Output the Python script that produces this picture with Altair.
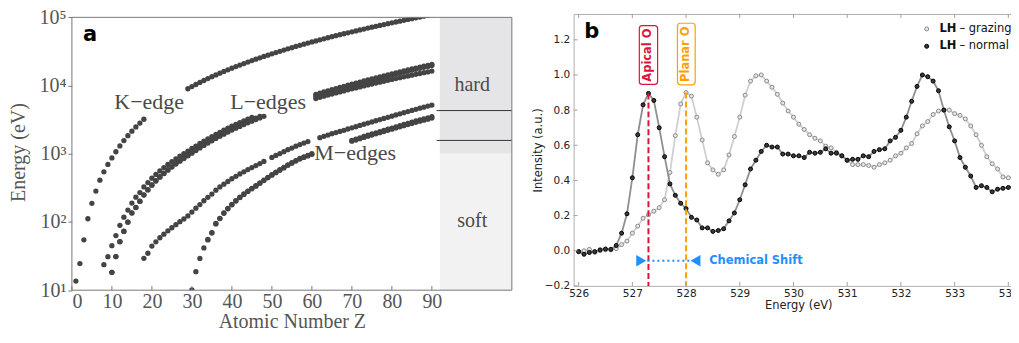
import altair as alt
import pandas as pd

# ================= panel a : absorption-edge energies (eV) vs Z =================
K_Z = list(range(1, 19)) + list(range(29, 91))
K_EV = [13.6, 24.6, 54.7, 111.5, 188, 284.2, 409.9, 543.1, 696.7, 870.2, 1070.8, 1303,
        1559.6, 1839, 2145.5, 2472, 2822.4, 3205.9,
        8979, 9659, 10367, 11103, 11867, 12658, 13474, 14326, 15200, 16105, 17038, 17998,
        18986, 20000, 21044, 22117, 23220, 24350, 25514, 26711, 27940, 29200, 30491, 31814,
        33169, 34561, 35985, 37441, 38925, 40443, 41991, 43569, 45184, 46834, 48519, 50239,
        51996, 53789, 55618, 57486, 59390, 61332, 63314, 65351, 67416, 69525, 71676, 73871,
        76111, 78395, 80725, 83102, 85530, 88005, 90526, 93105, 95730, 98404, 101137, 103922,
        106755, 109651]

L1_Z = list(range(8, 46)) + list(range(61, 91))
L1_EV = [23.7, 31, 45, 63.3, 89.4, 117.8, 149.7, 189, 230.9, 270, 326.3, 378.6, 438.4, 498,
         560.9, 626.7, 696, 769.1, 844.6, 925.1, 1008.6, 1096.7, 1196.2, 1299, 1414.6, 1527,
         1652, 1782, 1921, 2065, 2216, 2373, 2532, 2698, 2866, 3043, 3224, 3412,
         7428, 7737, 8052, 8376, 8708, 9046, 9394, 9751, 10116, 10486, 10870, 11271, 11682,
         12100, 12527, 12968, 13419, 13880, 14353, 14839, 15347, 15861, 16388, 16939, 17493,
         18049, 18639, 19237, 19840, 20472]

L2_Z = list(range(10, 48)) + list(range(61, 91))
L2_EV = [18.3, 31.1, 51.4, 73.1, 99.8, 136, 163.6, 202, 250.6, 297.3, 349.7, 403.6, 460.2,
         519.8, 583.8, 649.9, 719.9, 793.2, 870, 952.3, 1044.9, 1143.2, 1248.1, 1359.1, 1474.3,
         1596, 1730.9, 1864, 2007, 2156, 2307, 2465, 2625, 2793, 2967, 3146, 3330, 3524,
         6998, 7312, 7617, 7930, 8252, 8581, 8918, 9264, 9617, 9978, 10349, 10739, 11136,
         11544, 11959, 12385, 12824, 13273, 13734, 14209, 14698, 15200, 15711, 16244, 16785,
         17337, 17907, 18484, 19083, 19693]

L3_Z = list(range(10, 49)) + list(range(61, 91))
L3_EV = [18.3, 31.1, 51.4, 72.7, 99.4, 135, 162.5, 200, 248.4, 294.6, 346.2, 398.7, 453.8,
         512.1, 574.1, 638.7, 706.8, 778.1, 852.7, 932.7, 1021.8, 1116.4, 1217, 1323.6, 1433.9,
         1550, 1678.4, 1804, 1940, 2080, 2223, 2371, 2520, 2677, 2838, 3004, 3173, 3351, 3538,
         6459, 6716, 6977, 7243, 7514, 7790, 8071, 8358, 8648, 8944, 9244, 9561, 9881, 10207,
         10535, 10871, 11215, 11564, 11919, 12284, 12658, 13035, 13419, 13814, 14214, 14619,
         15031, 15444, 15871, 16300]

M1_Z = list(range(18, 49)) + list(range(50, 60)) + list(range(62, 91))
M1_EV = [29.3, 34.8, 44.3, 51.1, 58.7, 66.3, 74.1, 82.3, 91.3, 101, 110.8, 122.5, 139.8, 159.5,
         180.1, 204.7, 229.6, 257, 292.8, 326.7, 358.7, 392, 430.3, 466.6, 506.3, 544, 586.1,
         628.1, 671.6, 719, 772,
         884.7, 946, 1006, 1072, 1148.7, 1211, 1293, 1362, 1436, 1511,
         1723, 1800, 1881, 1968, 2047, 2128, 2207, 2307, 2398, 2491, 2601, 2708, 2820, 2932,
         3049, 3174, 3296, 3425, 3562, 3704, 3851, 3999, 4149, 4317, 4482, 4652, 4822, 5002, 5182]

M4_Z = list(range(34, 61)) + list(range(70, 91))
M4_EV = [55.5, 70, 95, 113, 136, 157.7, 181.1, 205, 231.1, 257.6, 284.2, 311.9, 340.5, 374,
         411.9, 451.4, 493.2, 537.5, 583.4, 630.8, 689, 740.5, 795.7, 853, 902.4, 948.3, 1003.3,
         1576, 1639, 1716, 1793, 1872, 1949, 2031, 2116, 2202, 2291, 2385, 2485, 2586, 2688,
         2798, 2909, 3022, 3136, 3248, 3370, 3491]

M5_Z = list(range(30, 61)) + list(range(70, 91))
M5_EV = [10.1, 18.7, 29.2, 41.7, 54.6, 69, 93.8, 112, 134.2, 155.8, 178.8, 202.3, 227.9, 253.9,
         280, 307.2, 335.2, 368.3, 405.2, 443.9, 484.9, 528.2, 573, 619.3, 676.4, 726.6, 780.5,
         836, 883.8, 928.8, 980.4,
         1528, 1589, 1662, 1735, 1809, 1883, 1960, 2040, 2122, 2206, 2295, 2389, 2484, 2580,
         2683, 2787, 2892, 3000, 3105, 3219, 3332]

A_X_TICKS = [0, 10, 20, 30, 40, 50, 60, 70, 80, 90]
A_Y_TICKS = [10, 100, 1000, 10000, 100000]
EDGE_LABELS = ["K\u2212edge", "L\u2212edges", "M\u2212edges"]
EDGE_LABEL_Z = [10.6, 39.6, 60.6]
EDGE_LABEL_EV = [4560, 4560, 817]
REGION_LABELS = ["hard", "soft"]
REGION_LABEL_EV = [8450, 84]
REGION_Z = [92, 110]
REGION_EV = [[1000, 100000], [10, 1000]]
REGION_COLORS = ["#e5e5e7", "#f2f2f2"]
LIMIT_EV = [4300, 1570]

# ================= panel b : O K-edge XAS =================
ENERGY = [round(526.0 + 0.1 * i, 1) for i in range(82)]
NORMAL = [-0.005, -0.02, -0.01, -0.005, 0.005, 0.01, 0.008, 0.03, 0.10, 0.21,
          0.415, 0.66, 0.83, 0.895, 0.855, 0.70, 0.535, 0.38, 0.315, 0.27,
          0.24, 0.19, 0.175, 0.13, 0.13, 0.11, 0.115, 0.125, 0.17, 0.215,
          0.29, 0.375, 0.465, 0.515, 0.565, 0.60, 0.59, 0.59, 0.55, 0.55,
          0.54, 0.54, 0.53, 0.56, 0.555, 0.56, 0.58, 0.555, 0.555, 0.54,
          0.515, 0.52, 0.52, 0.54, 0.535, 0.565, 0.575, 0.58, 0.625, 0.645,
          0.685, 0.76, 0.85, 0.935, 1.0, 0.99, 0.965, 0.91, 0.80, 0.705,
          0.625, 0.53, 0.475, 0.425, 0.36, 0.37, 0.36, 0.335, 0.35, 0.355,
          0.36, 0.37]
GRAZING = [-0.005, 0.0, 0.008, -0.01, 0.0, 0.005, 0.005, 0.012, 0.035, 0.055,
           0.10, 0.14, 0.185, 0.205, 0.225, 0.245, 0.29, 0.445, 0.655, 0.835,
           0.90, 0.88, 0.76, 0.63, 0.50, 0.46, 0.435, 0.46, 0.545, 0.65,
           0.76, 0.885, 0.965, 0.995, 1.0, 0.965, 0.93, 0.89, 0.84, 0.795,
           0.76, 0.72, 0.69, 0.66, 0.64, 0.625, 0.595, 0.585, 0.56, 0.54,
           0.515, 0.49, 0.49, 0.49, 0.485, 0.475, 0.49, 0.50, 0.515, 0.54,
           0.555, 0.585, 0.61, 0.665, 0.71, 0.735, 0.775, 0.795, 0.80, 0.80,
           0.78, 0.77, 0.75, 0.71, 0.66, 0.60, 0.535, 0.495, 0.465, 0.42,
           0.415, 0.42]
B_X_TICKS = [526, 527, 528, 529, 530, 531, 532, 533, 534]
B_Y_TICKS = [-0.2, 0.0, 0.2, 0.4, 0.6, 0.8, 1.0, 1.2]
SITE_LABELS = ["Apical O", "Planar O"]
SITE_ENERGY = [527.3, 528.0]
SITE_PEAK = [0.895, 0.90]
SITE_COLORS = ["#dc143c", "#ffa000"]
SITE_BOX_X = [[527.13, 527.47], [527.84, 528.17]]
SITE_BOX_Y = [[0.946, 1.281], [0.944, 1.294]]
SITE_TEXT_Y = [1.113, 1.118]
SHIFT_Y = -0.057
SHIFT_ARROW_X = [527.165, 528.176]
SHIFT_LINE_X = [527.28, 528.06]
SHIFT_TEXT_X = 528.43
LEGEND_NAMES = ["grazing", "normal"]
LEGEND_MARK_X = 532.48
LEGEND_Y = [1.262, 1.163]
LEGEND_LH_X = 532.717
LEGEND_TEXT_X = 533.09

# ---------------- layout constants ----------------
W_A, H_A = 440.7, 276.7          # panel a plot area (frame drawn 3.4 px below its top)
A_TOP_EV = 112147                # log-scale value at the very top of panel a's area
W_B, H_B = 450, 272.4
SERIF = "Liberation Serif"
SANS = "DejaVu Sans"
GREY_A = "#555555"

# ---------------- build panel a ----------------
rows = []
for name, zs, es in [("K", K_Z, K_EV), ("L1", L1_Z, L1_EV), ("L2", L2_Z, L2_EV),
                     ("L3", L3_Z, L3_EV), ("M1", M1_Z, M1_EV), ("M4", M4_Z, M4_EV),
                     ("M5", M5_Z, M5_EV)]:
    assert len(zs) == len(es), name
    rows += [{"series": name, "Z": z, "E": e} for z, e in zip(zs, es)]
df_a = pd.DataFrame(rows)

xa = alt.Scale(domain=[0, 110], nice=False, zero=False)
ya = alt.Scale(type="log", domain=[10, A_TOP_EV], nice=False)

label_expr = ("datum.value == 10 ? '10\u00b9' : datum.value == 100 ? '10\u00b2' : "
              "datum.value == 1000 ? '10\u00b3' : datum.value == 10000 ? '10\u2074' : '10\u2075'")

AX_A_X = alt.Axis(
    values=A_X_TICKS, title="Atomic Number Z", titleFont=SERIF, titleFontSize=20,
    titleFontWeight="normal", titleColor=GREY_A, titleY=21, titleBaseline="top",
    labelFont=SERIF, labelFontSize=20, labelColor=GREY_A, labelAngle=0,
    ticks=False, tickSize=0, labelPadding=1, domain=False, grid=False)
AX_A_Y = alt.Axis(
    values=A_Y_TICKS, labelExpr=label_expr, title="Energy (eV)", titleFont=SERIF,
    titleFontSize=20, titleFontWeight="normal", titleColor=GREY_A, titleAngle=270,
    titleBaseline="bottom", titleX=-43, labelFont=SERIF, labelFontSize=20,
    labelColor=GREY_A, ticks=True, tickSize=4, tickColor="#777777", labelPadding=2,
    domain=False, grid=False)


def XA(f):
    return alt.X(f, scale=xa, axis=AX_A_X)


def YA(f):
    return alt.Y(f, scale=ya, axis=AX_A_Y)


points_a = alt.Chart(df_a).mark_circle(size=28, color="#444444", opacity=1, clip=True).encode(
    x=XA("Z:Q"), y=YA("E:Q"))

reg_df = pd.DataFrame({"Z": [REGION_Z[0]] * 2, "Z2": [REGION_Z[1]] * 2,
                       "E": [r[0] for r in REGION_EV], "E2": [r[1] for r in REGION_EV],
                       "c": REGION_COLORS})
regions = alt.Chart(reg_df).mark_rect().encode(
    x=XA("Z:Q"), x2="Z2", y=YA("E:Q"), y2="E2", color=alt.Color("c:N", scale=None))

lim_df = pd.DataFrame({"E": LIMIT_EV, "Z": [91.2] * 2, "Z2": [110] * 2})
limits = alt.Chart(lim_df).mark_rule(color="#333333", strokeWidth=1).encode(
    x=XA("Z:Q"), x2="Z2", y=YA("E:Q"))

frame_df = pd.DataFrame({"Z": [0], "Z2": [110], "E": [10], "E2": [100000], "T": [A_TOP_EV]})
mask_a = alt.Chart(frame_df).mark_rect(color="white").encode(
    x=XA("Z:Q"), x2="Z2", y=YA("E2:Q"), y2="T")
frame_a = alt.Chart(frame_df).mark_rect(fillOpacity=0, stroke="#777777", strokeWidth=1).encode(
    x=XA("Z:Q"), x2="Z2", y=YA("E:Q"), y2="E2")

tick_a = alt.Chart(pd.DataFrame({"Z": A_X_TICKS})).mark_rule(color="#777777").encode(
    x=XA("Z:Q"), y=alt.value(H_A), y2=alt.value(H_A - 4))

edge_df = pd.DataFrame({"t": EDGE_LABELS, "Z": EDGE_LABEL_Z, "E": EDGE_LABEL_EV})
edge_text = alt.Chart(edge_df).mark_text(align="left", baseline="alphabetic", font=SERIF,
                                         fontSize=22, color="#4a4a4a").encode(
    x=XA("Z:Q"), y=YA("E:Q"), text="t:N")

reg_text_df = pd.DataFrame({"t": REGION_LABELS, "Z": [100.1] * 2, "E": REGION_LABEL_EV})
reg_text = alt.Chart(reg_text_df).mark_text(align="center", baseline="alphabetic", font=SERIF,
                                            fontSize=20, color="#4a4a4a").encode(
    x=XA("Z:Q"), y=YA("E:Q"), text="t:N")

tag_a = alt.Chart(pd.DataFrame({"t": ["a"], "Z": [2.75], "E": [45600]})).mark_text(
    align="left", baseline="alphabetic", font=SANS, fontSize=21, fontWeight="bold",
    color="black").encode(x=XA("Z:Q"), y=YA("E:Q"), text="t:N")

panel_a = alt.layer(regions, limits, points_a, mask_a, frame_a, tick_a, edge_text, reg_text,
                    tag_a).properties(width=W_A, height=H_A,
                                      view=alt.ViewBackground(stroke=None))

# ---------------- build panel b ----------------
df_b = pd.DataFrame({"e": ENERGY * 2, "v": GRAZING + NORMAL,
                     "s": ["grazing"] * len(ENERGY) + ["normal"] * len(ENERGY)})
xb = alt.Scale(domain=[525.907, 534.271], nice=False, zero=False)
yb = alt.Scale(domain=[-0.2, 1.347], nice=False, zero=False)
INK = "#222222"

AX_B_X = alt.Axis(
    values=B_X_TICKS, format="d", title="Energy (eV)", titleFont=SANS, titleFontSize=11.5,
    titleFontWeight="normal", titleColor=INK, titleY=14, titleBaseline="top",
    labelFont=SANS, labelFontSize=10.5, labelColor=INK, labelAngle=0, ticks=False,
    tickSize=0, labelPadding=3, domain=False, grid=False)
AX_B_Y = alt.Axis(
    values=B_Y_TICKS, format=".1f", title="Intensity (a.u.)", titleFont=SANS,
    titleFontSize=11.5, titleFontWeight="normal", titleColor=INK, titleAngle=270,
    titleBaseline="bottom", titleX=-30, labelFont=SANS, labelFontSize=10.5,
    labelColor=INK, ticks=False, tickSize=0, labelPadding=4, domain=False, grid=False)


def XB(f):
    return alt.X(f, scale=xb, axis=AX_B_X)


def YB(f):
    return alt.Y(f, scale=yb, axis=AX_B_Y)


base_b = alt.Chart(df_b)
line_g = base_b.transform_filter("datum.s == 'grazing'").mark_line(
    color="#cfcfcf", strokeWidth=1.8).encode(x=XB("e:Q"), y=YB("v:Q"))
line_n = base_b.transform_filter("datum.s == 'normal'").mark_line(
    color="#8f8f8f", strokeWidth=1.8).encode(x=XB("e:Q"), y=YB("v:Q"))
pts_g = base_b.transform_filter("datum.s == 'grazing'").mark_point(
    filled=True, fill="#e6e6e6", stroke="#8a8a8a", strokeWidth=1, size=16, opacity=1).encode(
    x=XB("e:Q"), y=YB("v:Q"))
pts_n = base_b.transform_filter("datum.s == 'normal'").mark_point(
    filled=True, fill="#3a3a3a", stroke="#000000", strokeWidth=1, size=16, opacity=1).encode(
    x=XB("e:Q"), y=YB("v:Q"))

site_df = pd.DataFrame({"t": SITE_LABELS, "e": SITE_ENERGY, "top": SITE_PEAK,
                        "bot": [-0.2] * 2, "c": SITE_COLORS,
                        "bx": [b[0] for b in SITE_BOX_X], "bx2": [b[1] for b in SITE_BOX_X],
                        "by": [b[0] for b in SITE_BOX_Y], "by2": [b[1] for b in SITE_BOX_Y],
                        "ty": SITE_TEXT_Y})
site_lines = alt.Chart(site_df).mark_rule(strokeDash=[6, 3], strokeWidth=2).encode(
    x=XB("e:Q"), y=YB("top:Q"), y2="bot", color=alt.Color("c:N", scale=None))
site_boxes = alt.Chart(site_df).mark_rect(fill="white", strokeWidth=1.2, cornerRadius=3).encode(
    x=XB("bx:Q"), x2="bx2", y=YB("by:Q"), y2="by2", stroke=alt.Color("c:N", scale=None))
site_text = alt.Chart(site_df).mark_text(angle=270, align="center", baseline="middle",
                                         font=SANS, fontSize=11.5, fontWeight="bold").encode(
    x=XB("e:Q"), y=YB("ty:Q"), text="t:N", color=alt.Color("c:N", scale=None))

BLUE = "#1e90ff"
shift_line = alt.Chart(pd.DataFrame({"e": [SHIFT_LINE_X[0]], "e2": [SHIFT_LINE_X[1]],
                                     "v": [SHIFT_Y]})).mark_rule(
    color=BLUE, strokeWidth=2, strokeDash=[2, 3]).encode(x=XB("e:Q"), x2="e2", y=YB("v:Q"))
arrow_df = pd.DataFrame({"e": SHIFT_ARROW_X, "v": [SHIFT_Y] * 2,
                         "shp": ["triangle-right", "triangle-left"]})
arrows = alt.Chart(arrow_df).mark_point(filled=True, color=BLUE, size=130, opacity=1).encode(
    x=XB("e:Q"), y=YB("v:Q"), shape=alt.Shape("shp:N", scale=None))
shift_text = alt.Chart(pd.DataFrame({"t": ["Chemical Shift"], "e": [SHIFT_TEXT_X],
                                     "v": [SHIFT_Y]})).mark_text(
    align="left", baseline="middle", font=SANS, fontSize=11.5, fontWeight="bold",
    color=BLUE).encode(x=XB("e:Q"), y=YB("v:Q"), text="t:N")

leg_df = pd.DataFrame({"s": LEGEND_NAMES, "v": LEGEND_Y, "e": [LEGEND_MARK_X] * 2,
                       "lh": [LEGEND_LH_X] * 2, "tx": [LEGEND_TEXT_X] * 2,
                       "t": ["\u2013 " + n for n in LEGEND_NAMES]})
leg_g = alt.Chart(leg_df).transform_filter("datum.s == 'grazing'").mark_point(
    filled=True, fill="#e6e6e6", stroke="#8a8a8a", strokeWidth=1, size=16, opacity=1).encode(
    x=XB("e:Q"), y=YB("v:Q"))
leg_n = alt.Chart(leg_df).transform_filter("datum.s == 'normal'").mark_point(
    filled=True, fill="#3a3a3a", stroke="#000000", strokeWidth=1, size=16, opacity=1).encode(
    x=XB("e:Q"), y=YB("v:Q"))
leg_lh = alt.Chart(leg_df).mark_text(align="left", baseline="middle", font=SANS, fontSize=11.5,
                                     fontWeight="bold", color="#111111").encode(
    x=XB("lh:Q"), y=YB("v:Q"), text=alt.value("LH"))
leg_txt = alt.Chart(leg_df).mark_text(align="left", baseline="middle", font=SANS, fontSize=11.5,
                                      color="#111111").encode(
    x=XB("tx:Q"), y=YB("v:Q"), text="t:N")

tag_b = alt.Chart(pd.DataFrame({"t": ["b"], "e": [526.106], "v": [1.211]})).mark_text(
    align="left", baseline="alphabetic", font=SANS, fontSize=21, fontWeight="bold",
    color="black").encode(x=XB("e:Q"), y=YB("v:Q"), text="t:N")

TICK_C = "#a0a0a0"
tick_bx = alt.Chart(pd.DataFrame({"e": B_X_TICKS}))
tick_bottom = tick_bx.mark_rule(color=TICK_C).encode(
    x=XB("e:Q"), y=alt.value(H_B), y2=alt.value(H_B - 4))
tick_top = tick_bx.mark_rule(color=TICK_C).encode(
    x=XB("e:Q"), y=alt.value(0), y2=alt.value(4))
tick_left = alt.Chart(pd.DataFrame({"v": B_Y_TICKS})).mark_rule(color=TICK_C).encode(
    y=YB("v:Q"), x=alt.value(0), x2=alt.value(4))

panel_b = alt.layer(line_g, line_n, pts_g, pts_n, site_lines, site_boxes, site_text,
                    shift_line, arrows, shift_text, leg_g, leg_n, leg_lh, leg_txt, tag_b,
                    tick_bottom, tick_top, tick_left).properties(
    width=W_B, height=H_B, view=alt.ViewBackground(stroke="#b0b0b0", strokeWidth=1))

# flush bounds: plot areas are laid out edge to edge with the given spacing;
# negative right padding crops panel b at the page edge like the reference
chart = alt.hconcat(panel_a, panel_b, spacing=61.6, bounds="flush").properties(
    padding={"left": 1, "top": -1.3, "right": -13.3, "bottom": 0},
    background="white")

chart.save("out.html", embed_options={"renderer": "svg", "actions": False})
